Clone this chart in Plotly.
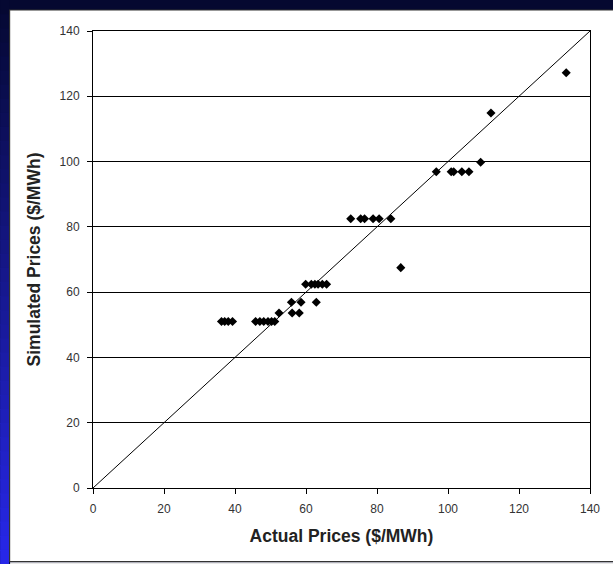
import plotly.graph_objects as go

actual = [36.2, 37.1, 38.1, 39.3,
          45.8, 47.0, 48.1, 49.3, 50.3, 51.2,
          52.4, 56.1, 58.1,
          55.9, 58.6, 62.9,
          59.9, 61.5, 62.5, 63.4, 64.6, 65.8,
          72.6, 75.4, 76.5, 78.9, 80.6, 83.9,
          86.7,
          96.7, 100.9, 101.6, 103.9, 105.9,
          109.2, 112.1, 133.3]
simulated = [51, 51, 51, 51,
             51, 51, 51, 51, 51, 51,
             53.6, 53.6, 53.6,
             56.9, 56.9, 56.9,
             62.4, 62.4, 62.4, 62.4, 62.4, 62.4,
             82.5, 82.5, 82.5, 82.5, 82.5, 82.5,
             67.5,
             96.9, 96.9, 96.9, 96.9, 96.9,
             99.8, 114.9, 127.2]
ref_line = [0, 140]
ticks = [0, 20, 40, 60, 80, 100, 120, 140]

W, H = 613, 564
L, R, T, B = 93, 590.5, 31, 488

def px(x):
    return (x - L) / (R - L)

def py(y):
    return (B - y) / (B - T)

fig = go.Figure()
fig.add_trace(go.Scatter(x=ref_line, y=ref_line, mode="lines",
                         line=dict(color="black", width=1), hoverinfo="skip"))
fig.add_trace(go.Scatter(x=actual, y=simulated, mode="markers",
                         marker=dict(symbol="diamond", size=7, color="black",
                                     line=dict(width=0))))

shapes = []
# left gradient strip
n = 40
c0 = (5, 8, 48)
c1 = (40, 40, 235)
for i in range(n):
    t = (i + 0.5) / n
    c = tuple(int(c0[k] + (c1[k] - c0[k]) * t) for k in range(3))
    y0 = H * i / n
    y1 = H * (i + 1) / n + 1
    shapes.append(dict(type="rect", xref="paper", yref="paper",
                       x0=px(0), x1=px(9), y0=py(y0), y1=py(y1),
                       fillcolor="rgb(%d,%d,%d)" % c, line=dict(width=0),
                       layer="below"))
# white panel
shapes.append(dict(type="rect", xref="paper", yref="paper",
                   x0=px(9.5), x1=px(W + 2), y0=py(10), y1=py(561.5),
                   fillcolor="white", line=dict(color="#333333", width=1.2),
                   layer="below"))
shapes.append(dict(type="rect", xref="paper", yref="paper",
                   x0=px(10), x1=px(W + 2), y0=py(562.2), y1=py(H + 2),
                   fillcolor="#e8e8e8", line=dict(width=0), layer="below"))

axis_common = dict(range=[0, 140], tickvals=ticks, ticks="outside", ticklen=5,
                   tickwidth=1, tickcolor="black", showline=True, linecolor="black",
                   linewidth=1, mirror=True, zeroline=False,
                   tickfont=dict(family="Liberation Sans, Arial", size=12, color="#333333"))

fig.update_layout(
    width=W, height=H,
    margin=dict(l=L, r=W - R, t=T, b=H - B),
    paper_bgcolor="rgb(5,8,48)",
    plot_bgcolor="white",
    showlegend=False,
    shapes=shapes,
    xaxis=dict(**axis_common, showgrid=False, ticklabelstandoff=5,
               title=dict(text="<b>Actual Prices ($/MWh)</b>", standoff=14,
                          font=dict(family="Liberation Sans, Arial", size=17.5, color="#222222"))),
    yaxis=dict(**axis_common, showgrid=True, gridcolor="black", gridwidth=1,
               ticklabelstandoff=5,
               title=dict(text="<b>Simulated Prices ($/MWh)</b>", standoff=14,
                          font=dict(family="Liberation Sans, Arial", size=17.5, color="#222222"))),
)

fig.write_html("out.html", config={"displayModeBar": False},
               post_script="document.body.style.margin='0';document.body.style.overflow='hidden';")
